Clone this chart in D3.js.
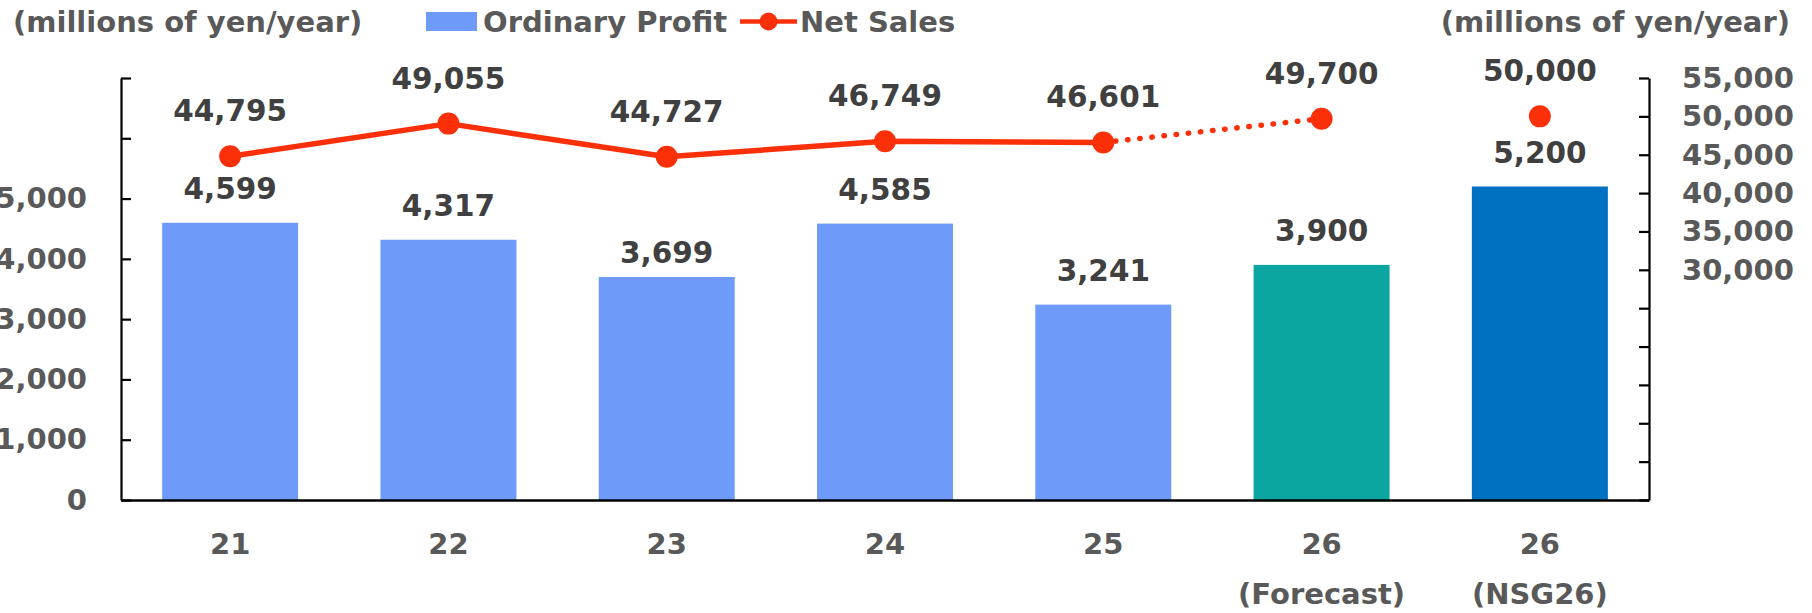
<!DOCTYPE html>
<html>
<head>
<meta charset="utf-8">
<script src="https://cdn.jsdelivr.net/npm/d3@7"></script>
<style>
  html, body { margin: 0; padding: 0; background: #fff; }
  svg { display: block; }
  text { font-family: "DejaVu Sans", Verdana, sans-serif; font-weight: bold; }
</style>
</head>
<body>
<svg id="chart" width="1812" height="613"></svg>
<script>
// ---- data ----
const catLine1 = ["21", "22", "23", "24", "25", "26", "26"];
const catLine2 = ["", "", "", "", "", "(Forecast)", "(NSG26)"];
const ordinaryProfit = [4599, 4317, 3699, 4585, 3241, 3900, 5200];
const netSales = [44795, 49055, 44727, 46749, 46601, 49700, 50000];
const barKind = ["actual", "actual", "actual", "actual", "actual", "forecast", "target"];
const leftTicks = [0, 1000, 2000, 3000, 4000, 5000, 6000, 7000];
const leftLabelMax = 5000;
const rightTicks = [0, 5000, 10000, 15000, 20000, 25000, 30000, 35000, 40000, 45000, 50000, 55000];
const rightLabelMin = 30000;
const unitLabel = "(millions of yen/year)";
const legendBar = "Ordinary Profit";
const legendLine = "Net Sales";

// ---- layout / style ----
const colors = { actual: "#6E9BFA", forecast: "#0BA6A1", target: "#0070C0" };
const red = "#FB3009";
const axisGray = "#595959";
const labelDark = "#404040";
const FS = 29;
const plot = { left: 121, right: 1649, top: 78, bottom: 500 };

const svg = d3.select("#chart");
const fmt = d3.format(",");

const x = d3.scaleBand().domain(d3.range(catLine1.length))
  .range([plot.left, plot.right]).paddingInner(0.377).paddingOuter(0.1885);
const yL = d3.scaleLinear().domain([0, 7000]).range([plot.bottom, plot.top]);
const yR = d3.scaleLinear().domain([0, 55000]).range([plot.bottom, plot.top]);

// bars
svg.append("g").selectAll("rect").data(ordinaryProfit).join("rect")
  .attr("x", (d, i) => x(i))
  .attr("y", d => yL(d))
  .attr("width", x.bandwidth())
  .attr("height", d => yL(0) - yL(d))
  .attr("fill", (d, i) => colors[barKind[i]]);

// left axis
const gL = svg.append("g").attr("transform", `translate(${plot.left},0)`)
  .call(d3.axisLeft(yL).tickValues(leftTicks).tickSize(-10).tickSizeOuter(0).tickPadding(34)
    .tickFormat(d => d <= leftLabelMax ? fmt(d) : ""));
// right axis
const gR = svg.append("g").attr("transform", `translate(${plot.right},0)`)
  .call(d3.axisRight(yR).tickValues(rightTicks).tickSize(-10).tickSizeOuter(0).tickPadding(33)
    .tickFormat(d => d >= rightLabelMin ? fmt(d) : ""));
[gL, gR].forEach(g => {
  g.selectAll("path.domain").attr("stroke", "#000").attr("stroke-width", 2.2);
  g.selectAll(".tick line").attr("stroke", "#000").attr("stroke-width", 2.2);
  g.selectAll(".tick text").attr("fill", axisGray).attr("font-size", FS)
    .attr("font-family", "DejaVu Sans").attr("font-weight", "bold");
});

// bottom axis line
const gB = svg.append("g").attr("transform", `translate(0,${plot.bottom})`)
  .call(d3.axisBottom(x).tickSize(0).tickSizeOuter(0).tickFormat(""));
gB.select("path.domain").attr("stroke", "#000").attr("stroke-width", 2.4);

// category labels
const catG = svg.append("g").attr("fill", axisGray).attr("font-size", FS).attr("text-anchor", "middle");
catG.selectAll("text.l1").data(catLine1).join("text").attr("class", "l1")
  .attr("x", (d, i) => x(i) + x.bandwidth() / 2).attr("y", 554).text(d => d);
catG.selectAll("text.l2").data(catLine2).join("text").attr("class", "l2")
  .attr("x", (d, i) => x(i) + x.bandwidth() / 2).attr("y", 604).text(d => d);

// net sales line
const cx = i => x(i) + x.bandwidth() / 2;
const lineGen = d3.line().x(d => cx(d.i)).y(d => yR(d.v));
const pts = netSales.map((v, i) => ({ i, v }));
svg.append("path").datum(pts.slice(0, 5))
  .attr("d", lineGen).attr("fill", "none").attr("stroke", red)
  .attr("stroke-width", 5.5).attr("stroke-linejoin", "round");
svg.append("path").datum(pts.slice(4, 6))
  .attr("d", lineGen).attr("fill", "none").attr("stroke", red)
  .attr("stroke-width", 5.5).attr("stroke-linecap", "round")
  .attr("stroke-dasharray", "0.5 11.7");
svg.append("g").selectAll("circle").data(pts).join("circle")
  .attr("cx", d => cx(d.i)).attr("cy", d => yR(d.v)).attr("r", 11).attr("fill", red);

// data labels
const barGap = ordinaryProfit.map((d, i) => i === 2 ? 14.5 : 24);
svg.append("g").attr("fill", labelDark).attr("font-size", 29.5).attr("text-anchor", "middle")
  .selectAll("text").data(ordinaryProfit).join("text")
  .attr("x", (d, i) => cx(i)).attr("y", (d, i) => yL(d) - barGap[i]).text(d => fmt(d));
svg.append("g").attr("fill", labelDark).attr("font-size", 29.5).attr("text-anchor", "middle")
  .selectAll("text").data(netSales).join("text")
  .attr("x", (d, i) => cx(i)).attr("y", d => yR(d) - 35).text(d => fmt(d));

// headers
svg.append("text").attr("x", 13).attr("y", 32).attr("fill", axisGray).attr("font-size", FS).text(unitLabel);
svg.append("text").attr("x", 1790).attr("y", 32).attr("text-anchor", "end").attr("fill", axisGray).attr("font-size", FS).text(unitLabel);

// legend
const lg = svg.append("g");
lg.append("rect").attr("x", 426).attr("y", 12).attr("width", 51).attr("height", 19).attr("fill", colors.actual);
lg.append("text").attr("x", 483).attr("y", 32).attr("fill", axisGray).attr("font-size", FS).text(legendBar);
lg.append("line").attr("x1", 740).attr("x2", 797).attr("y1", 21.5).attr("y2", 21.5)
  .attr("stroke", red).attr("stroke-width", 4.5);
lg.append("circle").attr("cx", 768.5).attr("cy", 21.5).attr("r", 9).attr("fill", red);
lg.append("text").attr("x", 800).attr("y", 32).attr("fill", axisGray).attr("font-size", FS).text(legendLine);
</script>
</body>
</html>
